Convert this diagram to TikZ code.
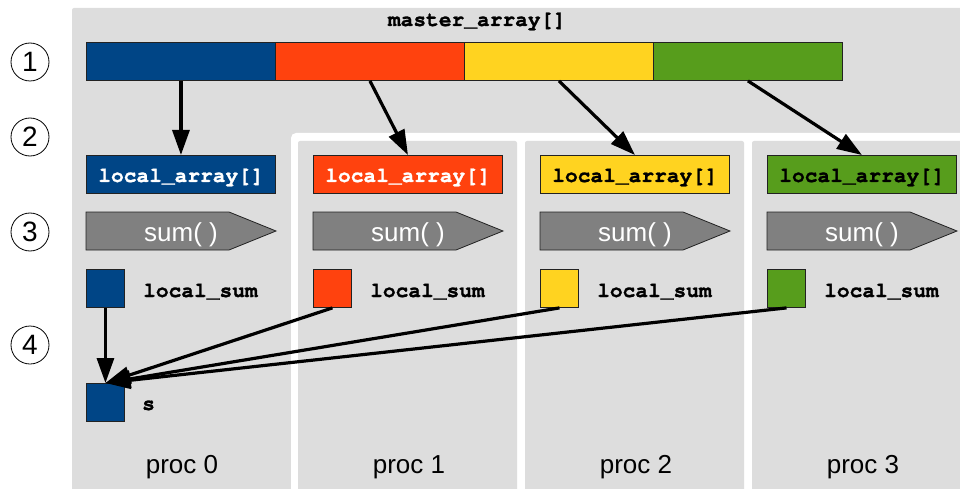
\documentclass[tikz,border=0pt]{standalone}
\usepackage{fontspec}
\setmainfont{Liberation Sans}
\newfontfamily\codefont{TeX Gyre Cursor}[BoldFeatures={FakeBold=1.2}]
\usetikzlibrary{arrows.meta}

\definecolor{cblue}{HTML}{004586}
\definecolor{corange}{HTML}{FF420E}
\definecolor{cyellow}{HTML}{FFD320}
\definecolor{cgreen}{HTML}{579D1C}
\definecolor{panelgray}{HTML}{DDDDDD}
\definecolor{sumgray}{HTML}{808080}
\definecolor{edge}{HTML}{222222}

\begin{document}
\begin{tikzpicture}[x=1pt,y=-1pt,
  code/.style={font=\codefont\bfseries\fontsize{21.2}{24}\selectfont, inner sep=0pt},
  cell/.style={draw=edge, line width=0.9pt, minimum width=189pt, minimum height=38pt,
    inner sep=0pt, anchor=north west},
  sq/.style={draw=edge, line width=0.9pt, minimum width=38pt, minimum height=38pt,
    inner sep=0pt, anchor=north west},
  stepnum/.style={draw=black, line width=0.8pt, circle, minimum size=38pt, inner sep=0pt,
    font=\fontsize{28}{30}\selectfont},
  proclabel/.style={font=\fontsize{26}{28}\selectfont, inner sep=0pt, anchor=base},
  sumlabel/.style={font=\fontsize{26}{28}\selectfont, text=white, inner sep=0pt},
  flow/.style={line width=3.2pt, -{Triangle[length=25pt,width=17pt]}},
]
\useasboundingbox (0,0) rectangle (960,489);
\clip (0,0) rectangle (960,489);

% backdrop and processor panels
\fill[panelgray, rounded corners=2pt] (72,8) rectangle (975,505);
\fill[white, rounded corners=5pt] (291,133) rectangle (975,505);
\foreach \xa/\xb in {298/517, 525/744, 752/975}
  \fill[panelgray, rounded corners=2pt] (\xa,141) rectangle (\xb,505);

% step markers
\node[stepnum] (c1) at (30,62) {1};
\node[stepnum] (c2) at (30,137) {2};
\node[stepnum] (c3) at (30,232) {3};
\node[stepnum] (c4) at (30,345) {4};

% master array
\node[code, anchor=base] (title) at (477,26) {master\_array[]};
\foreach \i/\c in {0/cblue,1/corange,2/cyellow,3/cgreen}
  \node[cell, fill=\c] (m\i) at ({86+189*\i},42) {};

% per-processor content
\foreach \i/\c/\t in {0/cblue/white,1/corange/white,2/cyellow/black,3/cgreen/black} {
  \pgfmathsetmacro{\xl}{86+227*\i}
  \node[cell, fill=\c] (la\i) at (\xl,155) {};
  \node[code, text=\t, anchor=base] (lat\i) at ({\xl+95},182) {local\_array[]};
  \fill[sumgray, draw=edge, line width=0.8pt]
    (\xl,212) -- ++(143,0) -- ++(47,19) -- ++(-47,19) -- ++(-143,0) -- cycle;
  \node[sumlabel, anchor=base] (sum\i) at ({\xl+95},241) {sum( )};
  \node[sq, fill=\c] (ls\i) at (\xl,269) {};
  \node[code, anchor=base west] (lsl\i) at ({\xl+57},297) {local\_sum};
  \node[proclabel] (p\i) at ({\xl+96},473) {proc \i};
}

% reduction target
\node[sq, fill=cblue] (s) at (86,383) {};
\node[code, anchor=base west] (sl) at (142,410) {s};

% scatter arrows
\foreach \i in {0,...,3}
  \draw[flow] (m\i.south) -- (la\i.north);

% gather arrows
\foreach \i in {0,...,3}
  \draw[flow] (ls\i.south) -- (s.north);
\end{tikzpicture}
\end{document}
